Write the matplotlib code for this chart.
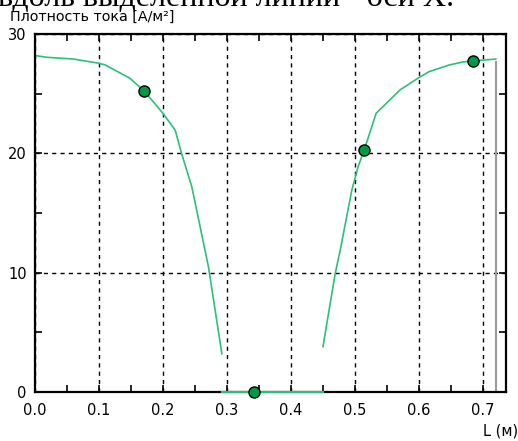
import matplotlib.pyplot as plt
from matplotlib.ticker import MultipleLocator

# left branch of current density
xLeft = [0.0, 0.018, 0.06, 0.10, 0.11, 0.148, 0.171, 0.20, 0.219, 0.229, 0.245, 0.258, 0.271, 0.292]
yLeft = [28.2, 28.05, 27.9, 27.55, 27.4, 26.3, 25.2, 23.35, 21.95, 20.0, 17.2, 13.85, 10.5, 3.2]
# zero part
xZero = [0.292, 0.45]
yZero = [0.0, 0.0]
# right branch
xRight = [0.45, 0.469, 0.477, 0.495, 0.505, 0.5146, 0.533, 0.570, 0.60, 0.616, 0.647, 0.668, 0.685, 0.72]
yRight = [3.8, 9.9, 11.9, 16.9, 18.9, 20.3, 23.35, 25.3, 26.35, 26.85, 27.4, 27.65, 27.75, 27.9]
# selected points
xMark = [0.171, 0.342, 0.5146, 0.685]
yMark = [25.2, 0.0, 20.3, 27.75]
xEnd = 0.72; yEndTop = 27.65

lineCol = '#2cc07a'; markCol = '#009a44'

fig = plt.figure(figsize=(5.18, 4.41), dpi=100)
ax = fig.add_axes([35/518, 49/441, 471/518, 358/441])
ax.plot(xLeft, yLeft, '-', color=lineCol, lw=1.2)
ax.plot(xZero, yZero, '-', color=lineCol, lw=1.6, clip_on=False, zorder=4)
ax.plot(xRight, yRight, '-', color=lineCol, lw=1.2)
ax.plot([xEnd, xEnd], [0, yEndTop], '-', color='#999999', lw=1.5)
ax.plot(xMark, yMark, 'o', color=markCol, mec='black', mew=1.0, ms=8, clip_on=False, zorder=5)

ax.set_xlim(0, 0.736)
ax.set_ylim(0, 30)
ax.xaxis.set_major_locator(MultipleLocator(0.1))
ax.xaxis.set_minor_locator(MultipleLocator(0.05))
ax.yaxis.set_major_locator(MultipleLocator(10))
ax.yaxis.set_minor_locator(MultipleLocator(5))
ax.xaxis.set_major_formatter(plt.FuncFormatter(lambda v, p: "{:.1f}".format(v)))
ax.tick_params(which='both', direction='in', top=True, right=True, length=5, width=1.2, labelsize=10.5)
ax.tick_params(axis='x', pad=8)
ax.tick_params(axis='y', pad=6)
ax.grid(True, which='major', color='black', linestyle=(0, (3, 3)), lw=1)
for s in ax.spines.values():
    s.set_linewidth(1.6)

fig.text(10/518, 1 - 24/441, "Плотность тока [А/м²]", fontsize=10.3, ha='left', va='bottom')
fig.text(1.0, 3/441, "L (м)", fontsize=10.5, ha='right', va='bottom')
fig.text(-2/518, 1 - 6/441, "вдоль выделенной линии - оси X.", family='Liberation Serif',
         fontsize=23, ha='left', va='baseline')

fig.savefig("out.png", dpi=100)
